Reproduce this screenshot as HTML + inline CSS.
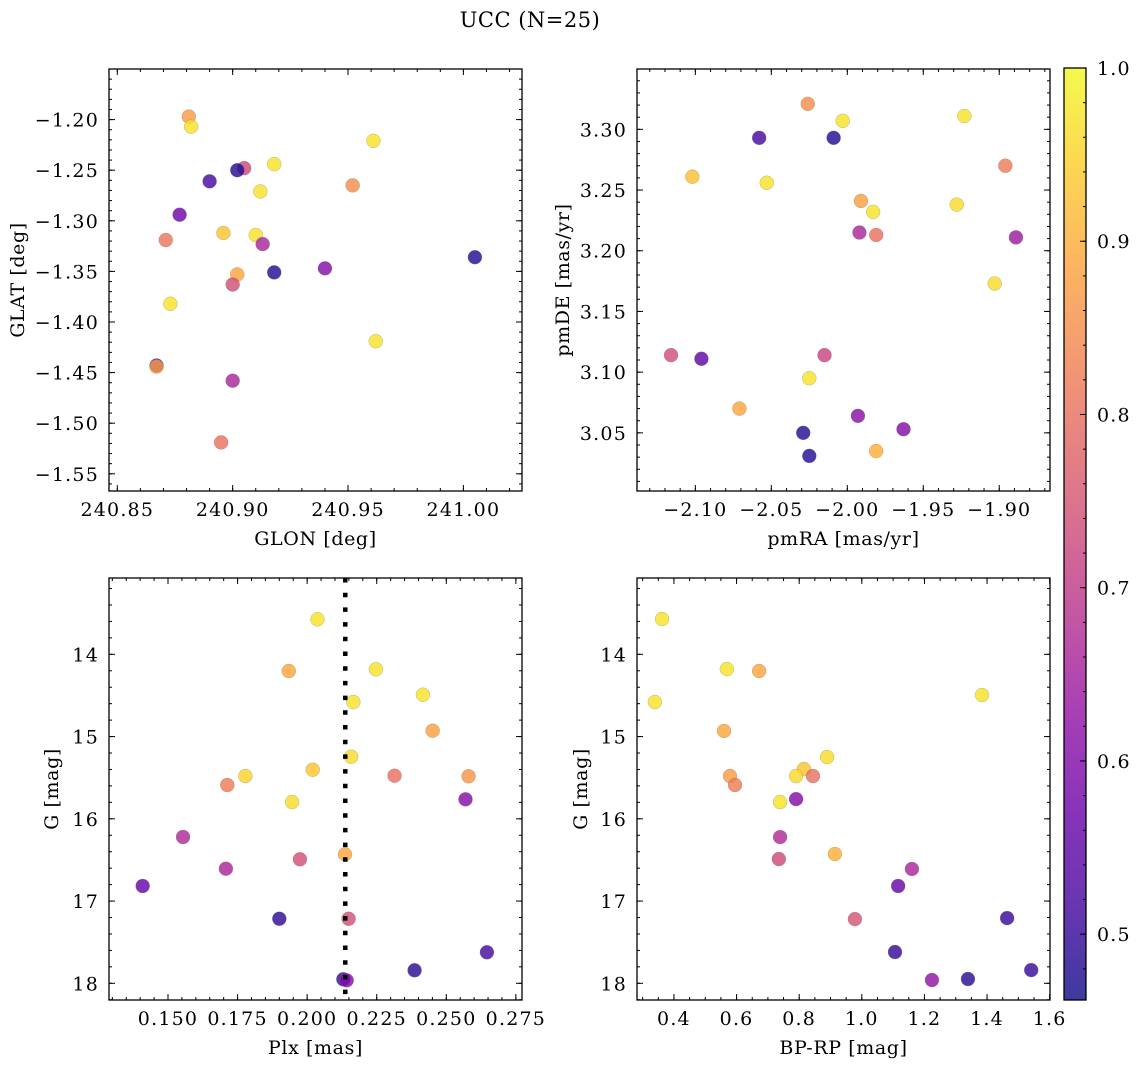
<!DOCTYPE html>
<html><head><meta charset="utf-8"><style>
html,body{margin:0;padding:0;background:#fff}
svg{display:block;font-family:"DejaVu Serif","Liberation Serif",serif}
</style></head><body>
<svg id="fig" width="1136" height="1068" viewBox="0 0 1136 1068" xmlns="http://www.w3.org/2000/svg">
<text x="530" y="27" font-size="21" letter-spacing="0.5" text-anchor="middle">UCC (N=25)</text>
</svg>
<script>
// Panel data
const glon = [240.881,240.882,240.961,240.918,240.905,240.902,240.890,240.952,240.912,240.877,240.871,240.896,240.910,240.913,240.902,240.900,240.918,240.940,241.005,240.873,240.962,240.867,240.867,240.900,240.895];
const glat = [-1.197,-1.207,-1.221,-1.244,-1.248,-1.250,-1.261,-1.265,-1.271,-1.294,-1.319,-1.312,-1.314,-1.323,-1.353,-1.363,-1.351,-1.347,-1.336,-1.382,-1.419,-1.443,-1.444,-1.458,-1.519];
const cTL  = [0.87,0.97,0.97,0.97,0.73,0.48,0.52,0.85,0.97,0.57,0.81,0.93,0.97,0.66,0.89,0.74,0.48,0.60,0.48,0.97,0.97,0.52,0.88,0.66,0.80];

const pmra = [-2.026,-2.003,-1.923,-2.058,-2.009,-1.896,-2.102,-2.053,-1.991,-1.983,-1.928,-1.992,-1.981,-1.889,-1.903,-2.116,-2.096,-2.015,-2.025,-2.071,-1.993,-1.963,-2.029,-1.981,-2.025];
const pmde = [3.321,3.307,3.311,3.293,3.293,3.270,3.261,3.256,3.241,3.232,3.238,3.215,3.213,3.211,3.173,3.114,3.111,3.114,3.095,3.070,3.064,3.053,3.050,3.035,3.031];
const cTR  = [0.85,0.97,0.97,0.52,0.48,0.82,0.92,0.97,0.88,0.97,0.96,0.66,0.80,0.64,0.96,0.74,0.55,0.72,0.97,0.89,0.61,0.60,0.48,0.90,0.48];

const plx  = [0.2037,0.1934,0.2247,0.2416,0.2166,0.2451,0.2158,0.2020,0.1778,0.1713,0.2314,0.2580,0.1946,0.2569,0.1554,0.2136,0.1974,0.1708,0.1409,0.1900,0.2149,0.2646,0.2386,0.2130,0.2142];
const gPlx = [13.574,14.203,14.182,14.491,14.580,14.929,15.245,15.403,15.480,15.589,15.476,15.483,15.796,15.763,16.221,16.432,16.492,16.607,16.817,17.215,17.215,17.623,17.842,17.951,17.964];
const cBL  = [0.97,0.89,0.97,0.97,0.97,0.88,0.96,0.93,0.95,0.82,0.80,0.86,0.96,0.60,0.67,0.89,0.74,0.66,0.56,0.49,0.74,0.52,0.49,0.50,0.60];
const plxLine = [0.2137];

const bprp = [0.362,0.569,0.672,0.339,1.384,0.560,0.889,0.815,0.790,0.844,0.579,0.595,0.739,0.790,0.739,0.914,0.735,1.160,1.116,0.978,1.464,1.106,1.541,1.224,1.339];
const gCol = [13.571,14.179,14.203,14.580,14.495,14.932,15.249,15.395,15.480,15.480,15.480,15.589,15.796,15.760,16.222,16.428,16.489,16.610,16.817,17.219,17.207,17.620,17.839,17.960,17.948];
const cBR  = [0.97,0.97,0.89,0.97,0.97,0.89,0.96,0.93,0.96,0.80,0.87,0.82,0.97,0.60,0.67,0.90,0.73,0.66,0.56,0.75,0.50,0.50,0.50,0.62,0.49];

const cbarTicks = [0.5,0.6,0.7,0.8,0.9,1.0];
const cMin = 0.462, cMax = 1.0;

const NS = "http://www.w3.org/2000/svg";
const svg = document.getElementById('fig');
const plasma = ["#0d0887","#41049d","#6a00a8","#8f0da4","#b12a90","#cc4778","#e16462","#f2844b","#fca636","#fcce25","#f0f921"];
function hex(h){return [1,3,5].map(i=>parseInt(h.substr(i,2),16));}
function cmap(v){
  let t=(v-cMin)/(cMax-cMin); t=Math.max(0,Math.min(1,t));
  const f=t*10, i=Math.min(9,Math.floor(f)), r=f-i;
  const a=hex(plasma[i]), b=hex(plasma[i+1]);
  return 'rgb('+a.map((x,k)=>Math.round(x+(b[k]-x)*r)).join(',')+')';
}
function mk(tag, attrs, parent){
  const e=document.createElementNS(NS,tag);
  for(const k in attrs) e.setAttribute(k,attrs[k]);
  (parent||svg).appendChild(e); return e;
}
function fmt(v,d){return (v<0?'\u2212':'')+Math.abs(v).toFixed(d);}
const TFS=19, TLS=1.2, LFS=19, LLS=0.6;

function panel(o){
  const g=mk('g',{});
  
  
  const L=o.box[0],T=o.box[1],R=o.box[2],B=o.box[3];
  const sx=v=>L+(v-o.xlim[0])/(o.xlim[1]-o.xlim[0])*(R-L);
  const sy=v=>T+(v-o.ytop)/(o.ybot-o.ytop)*(B-T);
  const pg=mk('g',{},g);
  
  
  for(let i=0;i<o.x.length;i++){
    const c=mk('circle',{cx:sx(o.x[i]),cy:sy(o.y[i]),r:7,fill:cmap(o.c[i]),'fill-opacity':0.8,stroke:'#777','stroke-width':0.4,'stroke-opacity':0.6},pg);
    
    
  }
  if(o.vline){
    const ln=mk('line',{x1:sx(o.vline[0]),x2:sx(o.vline[0]),y1:T,y2:B,stroke:'#000','stroke-width':4.5,'stroke-dasharray':'4.5,10.2'},g);
    
    
  }
  const tg=mk('g',{stroke:'#000','stroke-width':1},g);
  const xmin=Math.min(...o.xlim),xmax=Math.max(...o.xlim);
  const ymin=Math.min(o.ytop,o.ybot),ymax=Math.max(o.ytop,o.ybot);
  const eps=1e-9;
  for(let v=Math.ceil(xmin/o.xminor-eps)*o.xminor; v<=xmax+eps; v+=o.xminor){
    const p=sx(v); mk('line',{x1:p,x2:p,y1:B,y2:B-3},tg); mk('line',{x1:p,x2:p,y1:T,y2:T+3},tg);
  }
  for(let v=Math.ceil(ymin/o.yminor-eps)*o.yminor; v<=ymax+eps; v+=o.yminor){
    const p=sy(v); mk('line',{x1:L,x2:L+3,y1:p,y2:p},tg); mk('line',{x1:R,x2:R-3,y1:p,y2:p},tg);
  }
  o.xticks.forEach(v=>{
    const p=sx(v); mk('line',{x1:p,x2:p,y1:B,y2:B-6},tg); mk('line',{x1:p,x2:p,y1:T,y2:T+6},tg);
    const t=mk('text',{x:p,y:B+25,'font-size':TFS,'letter-spacing':TLS,'text-anchor':'middle'},g); t.textContent=fmt(v,o.xd);
    
    
  });
  o.yticks.forEach(v=>{
    const p=sy(v); mk('line',{x1:L,x2:L+6,y1:p,y2:p},tg); mk('line',{x1:R,x2:R-6,y1:p,y2:p},tg);
    const t=mk('text',{x:L-10,y:p+7,'font-size':TFS,'letter-spacing':TLS,'text-anchor':'end'},g); t.textContent=fmt(v,o.yd);
    
    
  });
  const fr=mk('rect',{x:L,y:T,width:R-L,height:B-T,fill:'none',stroke:'#000','stroke-width':1.3},g);
  
  
  const xl=mk('text',{x:(L+R)/2,y:B+54,'font-size':LFS,'letter-spacing':LLS,'text-anchor':'middle'},g); xl.textContent=o.xlabel;
  
  
  const yx=o.ylx, yy=(T+B)/2;
  const yl=mk('text',{x:yx,y:yy,'font-size':LFS,'letter-spacing':LLS,'text-anchor':'middle',transform:'rotate(-90 '+yx+' '+yy+')'},g); yl.textContent=o.ylabel;
  
  
}
function rng(a,b,s){const r=[];for(let v=a;v<=b+1e-9;v+=s)r.push(Math.round(v*1000)/1000);return r;}

panel({name:'glon-glat-panel',box:[109,69,522,491],xlim:[240.8464,241.0254],ytop:-1.150,ybot:-1.567,
  x:glon,y:glat,c:cTL,xticks:rng(240.85,241.0,0.05),xd:2,yticks:rng(-1.55,-1.20,0.05),yd:2,xminor:0.01,yminor:0.01,
  xlabel:'GLON [deg]',ylabel:'GLAT [deg]',ylx:24});
panel({name:'pm-panel',box:[637,69,1050,491],xlim:[-2.1384,-1.8666],ytop:3.3497,ybot:3.0021,
  x:pmra,y:pmde,c:cTR,xticks:rng(-2.10,-1.90,0.05),xd:2,yticks:rng(3.05,3.30,0.05),yd:2,xminor:0.01,yminor:0.01,
  xlabel:'pmRA [mas/yr]',ylabel:'pmDE [mas/yr]',ylx:569});
panel({name:'plx-g-panel',box:[109,578,522,1000],xlim:[0.1288,0.2772],ytop:13.072,ybot:18.203,
  x:plx,y:gPlx,c:cBL,vline:plxLine,xticks:rng(0.150,0.275,0.025),xd:3,yticks:rng(14,18,1),yd:0,xminor:0.005,yminor:0.2,
  xlabel:'Plx [mas]',ylabel:'G [mag]',ylx:58});
panel({name:'cmd-panel',box:[637,578,1050,1000],xlim:[0.282,1.601],ytop:13.072,ybot:18.203,
  x:bprp,y:gCol,c:cBR,xticks:rng(0.4,1.6,0.2),xd:1,yticks:rng(14,18,1),yd:0,xminor:0.05,yminor:0.2,
  xlabel:'BP-RP [mag]',ylabel:'G [mag]',ylx:587});

(function(){
  const L=1064,R=1086,T=68,B=1000;
  const defs=mk('defs',{});
  const lg=mk('linearGradient',{id:'pl',x1:0,y1:1,x2:0,y2:0},defs);
  plasma.forEach((c,i)=>mk('stop',{offset:(i/10),'stop-color':c},lg));
  const g=mk('g',{});
  
  
  mk('rect',{x:L,y:T,width:R-L,height:B-T,fill:'url(#pl)','fill-opacity':0.8},g);
  const sy=v=>B-(v-cMin)/(cMax-cMin)*(B-T);
  for(let v=0.48;v<=1.0001;v+=0.02){const p=sy(v);mk('line',{x1:R,x2:R-3,y1:p,y2:p,stroke:'#000'},g);}
  cbarTicks.forEach(v=>{
    const p=sy(v); mk('line',{x1:R,x2:R-6,y1:p,y2:p,stroke:'#000'},g);
    const t=mk('text',{x:R+11,y:p+7,'font-size':TFS,'letter-spacing':TLS},g); t.textContent=v.toFixed(1);
    
    
  });
  mk('rect',{x:L,y:T,width:R-L,height:B-T,fill:'none',stroke:'#000','stroke-width':1.3},g);
})();
</script>
</body></html>
